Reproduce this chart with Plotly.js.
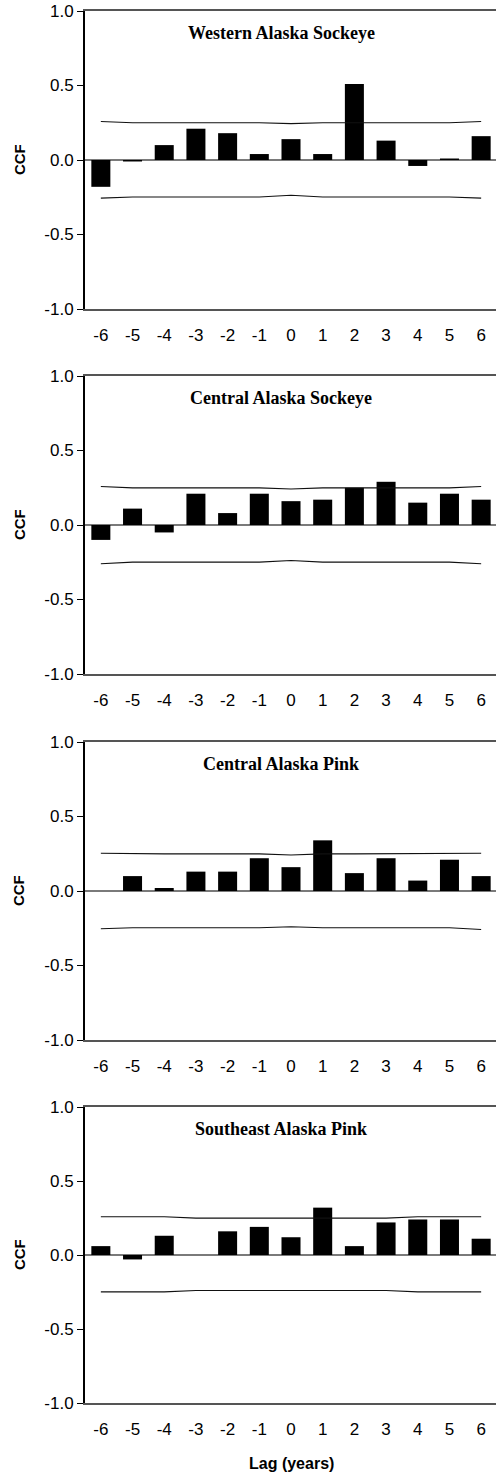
<!DOCTYPE html>
<html>
<head>
<meta charset="utf-8">
<script src="https://cdn.plot.ly/plotly-3.0.1.min.js"></script>
<style>
html, body { margin: 0; padding: 0; overflow: hidden; background: #fff; }
#chart { width: 500px; height: 1475px; }
</style>
</head>
<body>
<div id="chart"></div>
<script>
// ---- data ----
const lags = [-6, -5, -4, -3, -2, -1, 0, 1, 2, 3, 4, 5, 6];
const lagTickText = ['-6', '-5', '-4', '-3', '-2', '-1', '0', '1', '2', '3', '4', '5', '6'];
const ccfTickVals = [-1, -0.5, 0, 0.5, 1];
const ccfTickText = ['-1.0', '-0.5', '0.0', '0.5', '1.0'];

const panelTitles = ['Western Alaska Sockeye', 'Central Alaska Sockeye', 'Central Alaska Pink', 'Southeast Alaska Pink'];

const ccfWesternSockeye   = [-0.18, -0.01, 0.10, 0.21, 0.18, 0.04, 0.14, 0.04, 0.51, 0.13, -0.04, 0.01, 0.16];
const ccfCentralSockeye   = [-0.10, 0.11, -0.05, 0.21, 0.08, 0.21, 0.16, 0.17, 0.25, 0.29, 0.15, 0.21, 0.17];
const ccfCentralPink      = [0.00, 0.10, 0.02, 0.13, 0.13, 0.22, 0.16, 0.34, 0.12, 0.22, 0.07, 0.21, 0.10];
const ccfSoutheastPink    = [0.06, -0.03, 0.13, 0.00, 0.16, 0.19, 0.12, 0.32, 0.06, 0.22, 0.24, 0.24, 0.11];

const upperWesternSockeye = [0.258, 0.25, 0.25, 0.25, 0.25, 0.25, 0.244, 0.25, 0.25, 0.25, 0.25, 0.25, 0.258];
const lowerWesternSockeye = [-0.256, -0.248, -0.248, -0.248, -0.248, -0.248, -0.237, -0.248, -0.248, -0.248, -0.248, -0.248, -0.256];
const upperCentralSockeye = [0.258, 0.249, 0.249, 0.249, 0.249, 0.249, 0.242, 0.249, 0.249, 0.249, 0.249, 0.249, 0.258];
const lowerCentralSockeye = [-0.26, -0.249, -0.249, -0.249, -0.249, -0.249, -0.238, -0.249, -0.249, -0.249, -0.249, -0.249, -0.26];
const upperCentralPink    = [0.253, 0.249, 0.249, 0.249, 0.249, 0.249, 0.242, 0.249, 0.249, 0.249, 0.249, 0.249, 0.253];
const lowerCentralPink    = [-0.253, -0.247, -0.247, -0.247, -0.247, -0.247, -0.24, -0.247, -0.247, -0.247, -0.247, -0.247, -0.258];
const upperSoutheastPink  = [0.258, 0.258, 0.258, 0.249, 0.249, 0.249, 0.249, 0.249, 0.249, 0.249, 0.258, 0.258, 0.258];
const lowerSoutheastPink  = [-0.249, -0.249, -0.249, -0.24, -0.24, -0.24, -0.24, -0.24, -0.24, -0.24, -0.249, -0.249, -0.249];

const panelValues = [ccfWesternSockeye, ccfCentralSockeye, ccfCentralPink, ccfSoutheastPink];
const panelUpper  = [upperWesternSockeye, upperCentralSockeye, upperCentralPink, upperSoutheastPink];
const panelLower  = [lowerWesternSockeye, lowerCentralSockeye, lowerCentralPink, lowerSoutheastPink];

// ---- layout geometry (pixels from top) ----
const H = 1475;
const panelPix = [[11, 309], [376, 674], [742, 1040], [1107, 1403]];

const traces = [];
const layout = {
  width: 500, height: H,
  margin: {l: 85, r: 3, t: 0, b: 0},
  paper_bgcolor: '#fff', plot_bgcolor: '#fff',
  showlegend: false,
  bargap: 0.4,
  font: {family: 'Liberation Sans, Arial, sans-serif', color: '#000'},
  annotations: []
};

for (let i = 0; i < 4; i++) {
  const n = i === 0 ? '' : String(i + 1);
  const xa = 'x' + n, ya = 'y' + n;
  traces.push({
    type: 'bar', x: lags, y: panelValues[i], xaxis: xa, yaxis: ya,
    marker: {color: '#000', line: {width: 0}}, width: 0.6, hoverinfo: 'skip'
  });
  traces.push({
    type: 'scatter', mode: 'lines', x: lags, y: panelUpper[i], xaxis: xa, yaxis: ya,
    line: {color: '#111', width: 1.1}, hoverinfo: 'skip'
  });
  traces.push({
    type: 'scatter', mode: 'lines', x: lags, y: panelLower[i], xaxis: xa, yaxis: ya,
    line: {color: '#111', width: 1.1}, hoverinfo: 'skip'
  });
  const dom = [1 - panelPix[i][1] / H, 1 - panelPix[i][0] / H];
  layout['xaxis' + n] = {
    anchor: ya, range: [-6.5, 6.5], domain: [0, 1],
    tickmode: 'array', tickvals: lags, ticktext: lagTickText,
    ticks: 'outside', ticklen: 10, tickcolor: 'rgba(0,0,0,0)',
    showline: true, linecolor: '#555', linewidth: 2, mirror: true,
    showgrid: false, zeroline: false,
    tickfont: {size: 17, color: '#000'}, fixedrange: true
  };
  layout['yaxis' + n] = {
    anchor: xa, range: [-1, 1], domain: dom,
    tickmode: 'array', tickvals: ccfTickVals, ticktext: ccfTickText,
    ticks: 'outside', ticklen: 6, tickwidth: 1, tickcolor: '#000',
    showline: true, linecolor: '#000', linewidth: 2, mirror: false,
    showgrid: false, zeroline: true, zerolinecolor: '#7a7a7a', zerolinewidth: 2,
    tickfont: {size: 17, color: '#000'}, fixedrange: true
  };
  layout.annotations.push({
    text: panelTitles[i], xref: xa, yref: ya, x: -0.3, y: 0.85,
    xanchor: 'center', yanchor: 'middle', showarrow: false,
    font: {family: 'Liberation Serif, Times New Roman, serif', size: 18, weight: 'bold', color: '#000'}
  });
  layout.annotations.push({
    text: 'CCF', xref: 'paper', yref: ya, x: -0.16, y: 0,
    xanchor: 'center', yanchor: 'middle', textangle: -90, showarrow: false,
    font: {size: 15, weight: 'bold', color: '#000'}
  });
}
layout.annotations.push({
  text: 'Lag (years)', xref: 'paper', yref: 'paper', x: 0.5, y: 1 - 1463 / H,
  xanchor: 'center', yanchor: 'middle', showarrow: false,
  font: {size: 16, weight: 'bold', color: '#000'}
});

Plotly.newPlot('chart', traces, layout, {staticPlot: true, displayModeBar: false});
</script>
</body>
</html>
